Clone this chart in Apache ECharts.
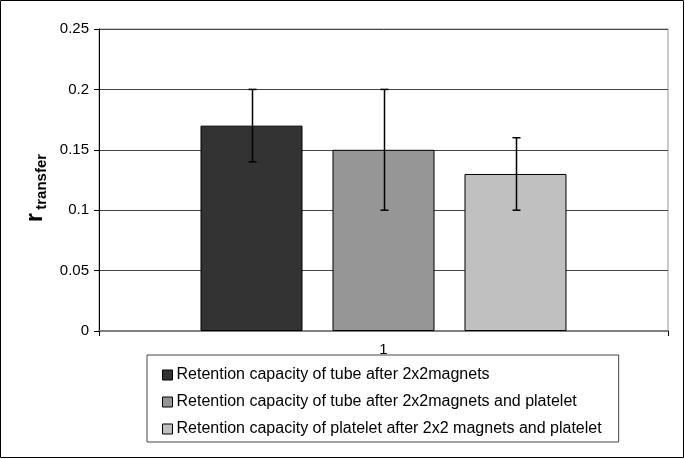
<!DOCTYPE html>
<html><head><meta charset="utf-8">
<script src="https://cdn.jsdelivr.net/npm/echarts@6/dist/echarts.min.js"></script>
<style>html,body{margin:0;padding:0;background:#fff}#c{width:685px;height:459px}</style>
</head><body><div id="c"></div>
<script>
const categories = ['1'];
const seriesNames = [
  'Retention capacity of tube after 2x2magnets',
  'Retention capacity of tube after 2x2magnets and platelet',
  'Retention capacity of platelet after 2x2 magnets and platelet'
];
const values = [0.17, 0.15, 0.13];
const errLow = [0.14, 0.10, 0.10];
const errHigh = [0.20, 0.20, 0.16];
const yTicks = [0, 0.05, 0.1, 0.15, 0.2, 0.25];

const colors = ['#333333', '#969696', '#c0c0c0'];
const BAR_W = 102, BAR_GAP = 30;
const font = 'Liberation Sans, Arial, sans-serif';

const chart = echarts.init(document.getElementById('c'), null, {renderer: 'canvas'});
const series = [];
seriesNames.forEach((n, i) => {
  series.push({
    name: n, type: 'bar', data: [values[i]],
    barWidth: BAR_W, barGap: (BAR_GAP / BAR_W * 100).toFixed(2) + '%',
    itemStyle: {color: colors[i], borderColor: '#000', borderWidth: 1},
    emphasis: {disabled: true}
  });
});
seriesNames.forEach((n, i) => {
  const off = (i - 1) * (BAR_W + BAR_GAP);
  series.push({
    type: 'custom', silent: true, z: 10,
    data: [[0, errLow[i], errHigh[i]]],
    renderItem: function (params, api) {
      const lo = api.coord([api.value(0), api.value(1)]);
      const hi = api.coord([api.value(0), api.value(2)]);
      const x = Math.round(lo[0] + off) + 0.5;
      const cap = 4;
      const st = {stroke: '#000', lineWidth: 1.5};
      return {type: 'group', children: [
        {type: 'line', shape: {x1: x, y1: lo[1], x2: x, y2: hi[1]}, style: st},
        {type: 'line', shape: {x1: x - cap, y1: lo[1], x2: x + cap, y2: lo[1]}, style: st},
        {type: 'line', shape: {x1: x - cap, y1: hi[1], x2: x + cap, y2: hi[1]}, style: st}
      ]};
    }
  });
});

chart.setOption({
  animation: false,
  backgroundColor: '#fff',
  textStyle: {fontFamily: font},
  grid: {left: 99, top: 29, right: 17, bottom: 128, show: true, borderColor: '#999', borderWidth: 1},
  xAxis: {
    type: 'category', data: categories,
    axisLine: {lineStyle: {color: '#808080', width: 2}},
    axisTick: {show: true, length: 5, lineStyle: {color: '#000'}},
    axisLabel: {color: '#000', fontSize: 15, margin: 11, fontFamily: font}
  },
  yAxis: {
    type: 'value', min: yTicks[0], max: yTicks[yTicks.length - 1], interval: 0.05,
    axisLine: {show: true, lineStyle: {color: '#000'}},
    axisTick: {show: true, length: 5, lineStyle: {color: '#000'}},
    axisLabel: {color: '#000', fontSize: 15, margin: 10, fontFamily: font},
    splitLine: {lineStyle: {color: '#444', width: 1}},
    name: '{r|r} {s|transfer}', nameLocation: 'middle', nameGap: 50, nameRotate: 90,
    nameTextStyle: {
      padding: [0, 16, 0, 0],
      rich: {
        r: {fontSize: 23, fontWeight: 'bold', color: '#000', fontFamily: font, lineHeight: 22},
        s: {fontSize: 15, fontWeight: 'bold', color: '#000', fontFamily: font, padding: [12, 0, 0, 0], lineHeight: 22}
      }
    }
  },
  legend: {
    orient: 'vertical', left: 147, top: 355,
    data: seriesNames,
    icon: 'rect', itemWidth: 10, itemHeight: 10, itemGap: 11,
    padding: [12, 17, 5, 15],
    borderColor: '#444', borderWidth: 1,
    itemStyle: {borderColor: '#000', borderWidth: 1},
    textStyle: {color: '#000', fontSize: 16, fontFamily: font, padding: [0, 0, 0, -1]},
    selectedMode: false
  },
  graphic: [{
    type: 'rect', shape: {x: 0.5, y: 0.5, width: 683, height: 457},
    style: {fill: 'none', stroke: '#000', lineWidth: 1}, silent: true
  }],
  series: series
});
</script></body></html>
